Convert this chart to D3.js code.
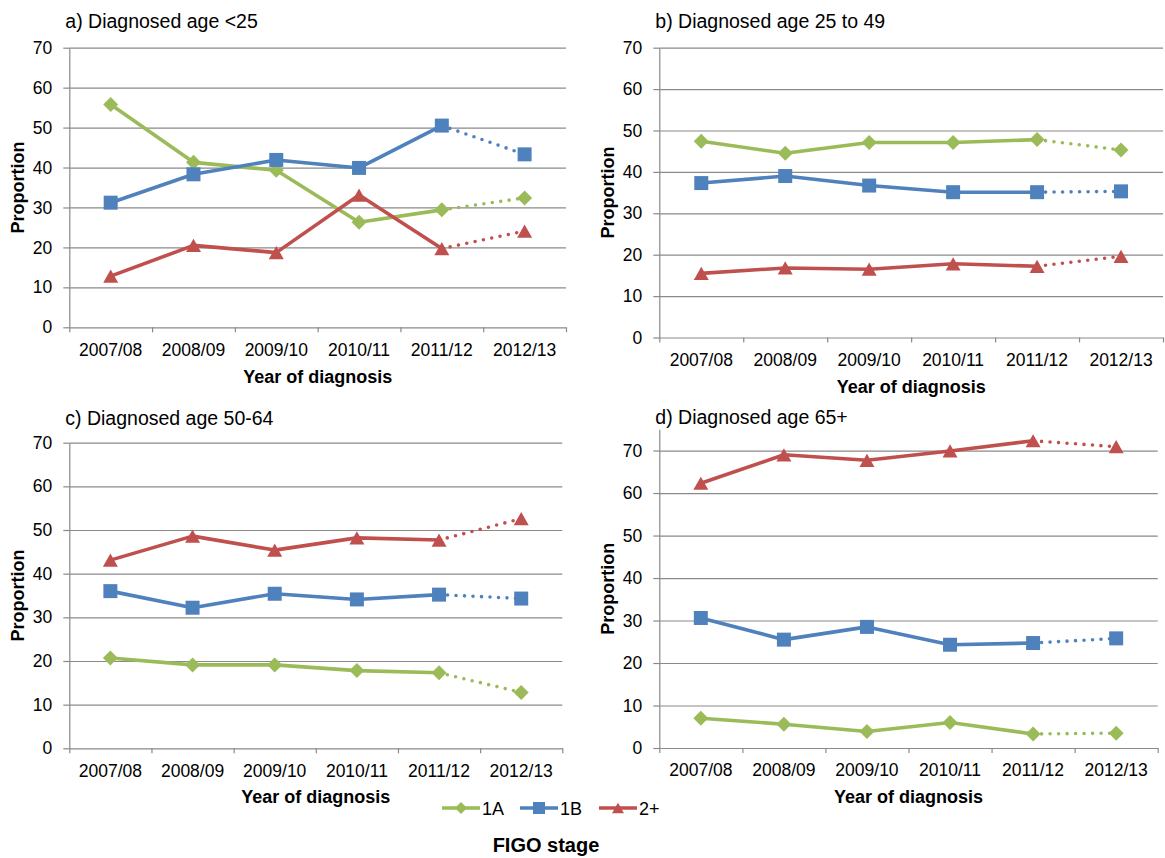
<!DOCTYPE html>
<html>
<head>
<meta charset="utf-8">
<script src="https://cdn.jsdelivr.net/npm/d3@7"></script>
<style>
  html, body { margin: 0; padding: 0; background: #fff; }
  svg { display: block; font-family: "Liberation Sans", Arial, sans-serif; }
</style>
</head>
<body>
<svg id="chart" width="1165" height="858"></svg>
<script>
// Diagnosis years (x categories)
const years = ["2007/08", "2008/09", "2009/10", "2010/11", "2011/12", "2012/13"];
const stages = ["1A", "1B", "2+"];
const yTicks = [0, 10, 20, 30, 40, 50, 60, 70];

// Proportion by FIGO stage, per age group
const under25_1A = [55.8, 41.3, 39.3, 26.3, 29.4, 32.4];
const under25_1B = [31.2, 38.3, 41.9, 39.9, 50.5, 43.3];
const under25_2p = [12.8, 20.5, 18.7, 33.1, 19.7, 24.1];

const age25to49_1A = [47.4, 44.5, 47.1, 47.1, 47.8, 45.3];
const age25to49_1B = [37.3, 39.0, 36.7, 35.1, 35.1, 35.3];
const age25to49_2p = [15.5, 16.8, 16.5, 17.8, 17.2, 19.6];

const age50to64_1A = [20.7, 19.1, 19.1, 17.8, 17.3, 12.8];
const age50to64_1B = [36.0, 32.2, 35.4, 34.1, 35.2, 34.3];
const age50to64_2p = [43.1, 48.6, 45.4, 48.2, 47.7, 52.6];

const age65plus_1A = [7.0, 5.6, 3.9, 6.0, 3.3, 3.5];
const age65plus_1B = [30.6, 25.5, 28.5, 24.3, 24.7, 25.8];
const age65plus_2p = [62.3, 69.0, 67.7, 69.9, 72.3, 70.9];

const panelTitles = ["a) Diagnosed age <25", "b) Diagnosed age 25 to 49", "c) Diagnosed age 50-64", "d) Diagnosed age 65+"];
const panelSeries = [
  [under25_1A, under25_1B, under25_2p],
  [age25to49_1A, age25to49_1B, age25to49_2p],
  [age50to64_1A, age50to64_1B, age50to64_2p],
  [age65plus_1A, age65plus_1B, age65plus_2p]
];
const panelMax = [70, 70, 70, 75];

// Layout of each plot area
const frames = [
  { x0: 69.3, x1: 566,   yTop: 47.7,  yBottom: 327.3, titleY: 28,  xTitleY: 383 },
  { x0: 659.3, x1: 1163, yTop: 47.7,  yBottom: 337.5, titleY: 28,  xTitleY: 393 },
  { x0: 69.3, x1: 562.3, yTop: 442.7, yBottom: 748.3, titleY: 425, xTitleY: 803 },
  { x0: 659.3, x1: 1157.7, yTop: 429.3, yBottom: 748, titleY: 424, xTitleY: 803 }
];

const colors = ["#9BBB59", "#4F81BD", "#C0504D"];
const gridColor = "#8a8a8a";

// Marker shapes (size = square of the marker width)
const diamond = { draw(ctx, size) { const r = Math.sqrt(size) / 2; ctx.moveTo(0, -r); ctx.lineTo(r, 0); ctx.lineTo(0, r); ctx.lineTo(-r, 0); ctx.closePath(); } };
const square = { draw(ctx, size) { const r = Math.sqrt(size) / 2; ctx.rect(-r, -r, 2 * r, 2 * r); } };
const triangle = { draw(ctx, size) { const r = Math.sqrt(size) / 2; const h = r * 0.88; ctx.moveTo(0, -h); ctx.lineTo(r, h); ctx.lineTo(-r, h); ctx.closePath(); } };
const shapeTypes = [diamond, square, triangle];
const markerSizes = [15, 14, 15];

const svg = d3.select("#chart");

frames.forEach((f, p) => {
  const g = svg.append("g");
  const x = d3.scaleBand().domain(years).range([f.x0, f.x1]).padding(0);
  const y = d3.scaleLinear().domain([0, panelMax[p]]).range([f.yBottom, f.yTop]);
  const idx = d3.scaleLinear().domain([0, years.length]).range([f.x0, f.x1]);
  const plotW = f.x1 - f.x0;

  // horizontal gridlines
  g.append("g")
    .attr("transform", `translate(${f.x0},0)`)
    .call(d3.axisLeft(y).tickValues(yTicks.slice(1)).tickSize(-plotW).tickFormat(""))
    .call(s => s.select(".domain").remove())
    .call(s => s.selectAll("line").attr("stroke", gridColor).attr("stroke-width", 1.2));

  // y axis
  g.append("g")
    .attr("transform", `translate(${f.x0},0)`)
    .call(d3.axisLeft(y).tickValues(yTicks).tickSize(6).tickSizeOuter(0).tickPadding(11))
    .call(s => s.select(".domain").attr("stroke", gridColor).attr("stroke-width", 1.2))
    .call(s => s.selectAll("line").attr("stroke", gridColor).attr("stroke-width", 1.2))
    .call(s => s.selectAll("text").attr("font-size", 17.5).attr("fill", "#000").attr("font-family", "Liberation Sans, Arial, sans-serif"));

  // x axis line with boundary ticks
  g.append("g")
    .attr("transform", `translate(0,${f.yBottom})`)
    .call(d3.axisBottom(idx).tickValues(d3.range(years.length + 1)).tickSize(5).tickSizeOuter(0).tickFormat(""))
    .call(s => s.select(".domain").attr("stroke", gridColor).attr("stroke-width", 1.2))
    .call(s => s.selectAll("line").attr("stroke", gridColor).attr("stroke-width", 1.2));

  // category labels
  g.append("g")
    .attr("transform", `translate(0,${f.yBottom})`)
    .call(d3.axisBottom(x).tickSize(0).tickPadding(16))
    .call(s => s.select(".domain").remove())
    .call(s => s.selectAll("text").attr("font-size", 17.5).attr("fill", "#000").attr("font-family", "Liberation Sans, Arial, sans-serif"));

  // panel title
  g.append("text").attr("x", f.x0 - 4).attr("y", f.titleY)
    .attr("font-size", 19.5).attr("fill", "#000").text(panelTitles[p]);

  // axis titles
  g.append("text").attr("x", (f.x0 + f.x1) / 2).attr("y", f.xTitleY)
    .attr("text-anchor", "middle").attr("font-size", 18).attr("font-weight", "bold").text("Year of diagnosis");
  g.append("text")
    .attr("transform", `translate(${f.x0 - 45},${(f.yTop + f.yBottom) / 2}) rotate(-90)`)
    .attr("text-anchor", "middle").attr("font-size", 18).attr("font-weight", "bold").text("Proportion");

  const cx = i => x(years[i]) + x.bandwidth() / 2;
  const line = d3.line().x(d => d.x).y(d => d.y);

  panelSeries[p].forEach((vals, s) => {
    const pts = vals.map((v, i) => ({ x: cx(i), y: y(v) }));
    // solid line through 2011/12
    g.append("path").datum(pts.slice(0, 5)).attr("d", line)
      .attr("fill", "none").attr("stroke", colors[s]).attr("stroke-width", 3.6)
      .attr("stroke-linejoin", "round");
    // provisional final year, dotted
    g.append("path").datum(pts.slice(4)).attr("d", line)
      .attr("fill", "none").attr("stroke", colors[s]).attr("stroke-width", 3.6)
      .attr("stroke-linecap", "round").attr("stroke-dasharray", "0 8.5");
    const sym = d3.symbol().type(shapeTypes[s]).size(markerSizes[s] * markerSizes[s]);
    g.selectAll(null).data(pts).join("path")
      .attr("transform", d => `translate(${d.x},${d.y})`)
      .attr("d", sym())
      .attr("fill", colors[s]);
  });
});

// legend
const legendX = [442, 520, 599];
const legend = svg.append("g");
stages.forEach((name, s) => {
  const lx = legendX[s], ly = 808;
  legend.append("line").attr("x1", lx).attr("x2", lx + 38).attr("y1", ly).attr("y2", ly)
    .attr("stroke", colors[s]).attr("stroke-width", 3.6);
  legend.append("path").attr("transform", `translate(${lx + 19},${ly})`)
    .attr("d", d3.symbol().type(shapeTypes[s]).size(12 * 12)())
    .attr("fill", colors[s]);
  legend.append("text").attr("x", lx + 40).attr("y", ly + 6.5)
    .attr("font-size", 18).attr("fill", "#000").text(name);
});
svg.append("text").attr("x", 546).attr("y", 852).attr("text-anchor", "middle")
  .attr("font-size", 20).attr("font-weight", "bold").text("FIGO stage");
</script>
</body>
</html>
